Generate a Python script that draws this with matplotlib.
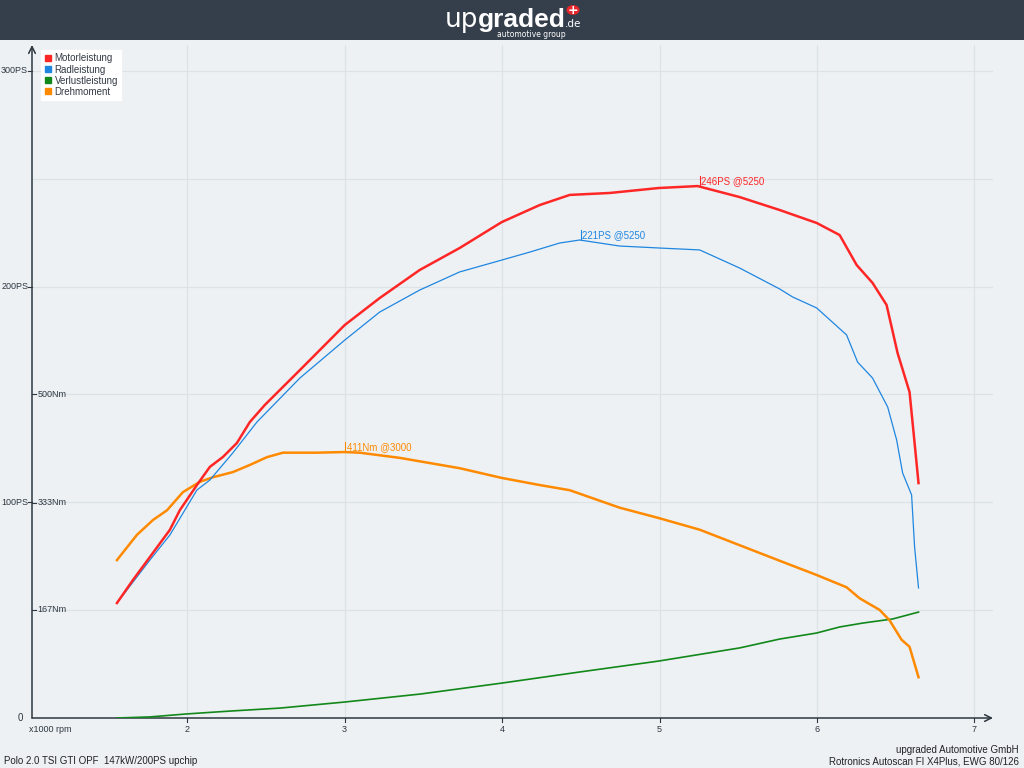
import matplotlib
matplotlib.use("Agg")
import matplotlib.pyplot as plt
from matplotlib.patches import Rectangle, Circle
from matplotlib.lines import Line2D
import numpy as np

# data (rpm in x1000, power in PS, torque in Nm)
motor_rpm = [1.554, 1.656, 1.763, 1.890, 1.954, 2.062, 2.144, 2.227, 2.316, 2.398, 2.493, 2.716,
             3.001, 3.223, 3.477, 3.731, 3.998, 4.239, 4.430, 4.684, 4.995, 5.242, 5.509, 5.763,
             5.998, 6.144, 6.252, 6.353, 6.442, 6.512, 6.588, 6.620, 6.645]
motor_ps = [53.3, 64.0, 74.6, 87.2, 96.4, 108.0, 116.4, 121.0, 127.5, 137.2, 145.1, 161.3,
            182.2, 194.7, 207.7, 217.9, 229.9, 237.8, 242.5, 243.4, 245.7, 246.6, 241.5, 235.5,
            229.5, 223.9, 210.0, 201.7, 191.5, 169.2, 151.1, 127.5, 108.9]

rad_rpm = [1.554, 1.763, 1.890, 2.062, 2.144, 2.290, 2.443, 2.716, 3.001, 3.223, 3.477, 3.731,
           3.998, 4.176, 4.366, 4.493, 4.747, 4.995, 5.255, 5.509, 5.763, 5.845, 5.998, 6.188,
           6.258, 6.353, 6.449, 6.506, 6.544, 6.601, 6.620, 6.645]
rad_ps = [53.3, 73.2, 84.8, 105.7, 110.3, 122.9, 137.2, 157.6, 175.2, 188.2, 198.4, 206.8,
          212.3, 216.0, 220.2, 221.6, 218.8, 217.9, 217.0, 208.6, 198.9, 195.2, 190.1, 177.6,
          165.0, 157.6, 144.2, 128.9, 113.6, 103.4, 79.3, 60.3]

verlust_rpm = [1.554, 1.763, 2.0, 2.27, 2.59, 3.0, 3.48, 4.0, 4.49, 4.995, 5.51, 5.763,
               5.998, 6.144, 6.29, 6.48, 6.645]
verlust_ps = [0.0, 0.5, 1.9, 3.2, 4.6, 7.4, 11.1, 16.2, 21.3, 26.4, 32.5, 36.6,
              39.4, 42.2, 44.0, 45.9, 49.1]

dreh_rpm = [1.554, 1.681, 1.783, 1.872, 1.973, 2.081, 2.163, 2.290, 2.398, 2.506, 2.608, 2.823,
            3.001, 3.096, 3.350, 3.731, 3.998, 4.239, 4.430, 4.747, 4.995, 5.255, 5.509, 5.763,
            5.998, 6.188, 6.271, 6.398, 6.461, 6.537, 6.588, 6.645]
dreh_nm = [244, 283, 306, 321, 349, 365, 372, 380, 391, 403, 410, 410,
           411, 410, 402, 386, 371, 360, 352, 325, 309, 291, 267, 243,
           221, 202, 185, 167, 151, 121, 110, 63]

nm_to_ps = 0.3  # 500Nm sits on the 150PS line

x_ticks = [2, 3, 4, 5, 6, 7]
ps_ticks = [100, 200, 300]
ps_labels = ["100PS", "200PS", "300PS"]
nm_ticks = [167, 333, 500]
nm_labels = ["167Nm", "333Nm", "500Nm"]
leg_names = ["Motorleistung", "Radleistung", "Verlustleistung", "Drehmoment"]

bg = "#edf1f4"
dark = "#2e3740"
red = "#ff2626"
blue = "#1f86e0"
green = "#12881a"
orange = "#ff8a00"
fnt = "Liberation Sans"

fig = plt.figure(figsize=(10.24, 7.68), dpi=100, facecolor=bg)
fig.patches.append(Rectangle((0, 1 - 40 / 768), 1, 40 / 768, transform=fig.transFigure,
                             facecolor="#353f4b", edgecolor="none"))

# logo
fig.text(478 / 1024, 1 - 27 / 768, "up", color="white", fontsize=19, ha="right", va="baseline",
         family="DejaVu Sans")
fig.text(478 / 1024, 1 - 27 / 768, "graded", color="white", fontsize=19, ha="left", va="baseline",
         family=fnt, weight="bold")
fig.text(565 / 1024, 1 - 27 / 768, ".de", color="white", fontsize=7.5, ha="left", va="baseline",
         family="DejaVu Sans")
fig.text(531 / 1024, 1 - 37 / 768, "automotive group", color="white", fontsize=5.5, ha="center",
         va="baseline", family="DejaVu Sans")
fig.patches.append(Circle((573 / 1024, 1 - 10 / 768), 6.5 / 1024, transform=fig.transFigure,
                          facecolor="#e8262c", edgecolor="none"))
fig.text(573 / 1024, 1 - 10.5 / 768, "+", color="white", fontsize=9, weight="bold",
         ha="center", va="center", family="DejaVu Sans")

ax = fig.add_axes([32 / 1024, 50 / 768, 961 / 1024, 673 / 768])
ax.set_facecolor(bg)
ax.set_xlim(1.0146, 7.118)
ax.set_ylim(0, 312)
for s in ax.spines.values():
    s.set_visible(False)
ax.set_xticks([])
ax.set_yticks([])

# grid
for xv in x_ticks:
    ax.axvline(xv, color="#dce2e8", lw=0.9, zorder=0)
for yv in [50, 100, 150, 200, 250, 300]:
    ax.axhline(yv, color="#dce2e8", lw=0.9, zorder=0)

# axes with arrows
ax.annotate("", xy=(1.0, 0), xytext=(0, 0), xycoords="axes fraction",
            arrowprops=dict(arrowstyle="->", color=dark, lw=1.1, shrinkA=0, shrinkB=0,
                            mutation_scale=12))
ax.annotate("", xy=(0, 1.0), xytext=(0, 0), xycoords="axes fraction",
            arrowprops=dict(arrowstyle="->", color=dark, lw=1.1, shrinkA=0, shrinkB=0,
                            mutation_scale=12))

xtr = ax.get_xaxis_transform()
for xv in x_ticks:
    ax.plot([xv, xv], [0, -0.006], transform=xtr, color=dark, lw=0.8, clip_on=False)
    ax.text(xv, -0.01, str(xv), transform=xtr, ha="center", va="top", fontsize=6.5,
            color=dark, family=fnt)
ax.text(-0.003, -0.01, "x1000 rpm", transform=ax.transAxes, ha="left", va="top", fontsize=6.5,
        color=dark, family=fnt)

ytr = ax.get_yaxis_transform()
ax.text(-0.009, 0, "0", transform=ytr, ha="right", va="center", fontsize=7, color=dark, family=fnt)
for yv, lab in zip(ps_ticks, ps_labels):
    ax.plot([-0.004, 0], [yv, yv], transform=ytr, color=dark, lw=0.8, clip_on=False)
    ax.text(-0.004, yv, lab, transform=ytr, ha="right", va="center", fontsize=6.5,
            color=dark, family=fnt)
for nv, lab in zip(nm_ticks, nm_labels):
    yv = nv * nm_to_ps
    ax.plot([0, 0.004], [yv, yv], transform=ytr, color=dark, lw=0.8, clip_on=False)
    ax.text(0.006, yv, lab, transform=ytr, ha="left", va="center", fontsize=6.5,
            color=dark, family=fnt)

# curves
ax.plot(verlust_rpm, verlust_ps, color=green, lw=1.2, zorder=3)
ax.plot(dreh_rpm, np.array(dreh_nm) * nm_to_ps, color=orange, lw=1.8, zorder=3)
ax.plot(rad_rpm, rad_ps, color=blue, lw=0.9, zorder=4)
ax.plot(motor_rpm, motor_ps, color=red, lw=1.8, zorder=5)

# peak markers
def peak(xv, yv, txt, col):
    ax.plot([xv, xv], [yv, yv + 4.6], color=col, lw=0.8, zorder=6)
    ax.text(xv + 0.008, yv + 2.3, txt, color=col, fontsize=7, ha="left", va="center",
            family=fnt, zorder=6)

peak(5.255, 246.6, "246PS @5250", red)
peak(4.500, 221.6, "221PS @5250", blue)
peak(3.005, 123.3, "411Nm @3000", orange)

# legend
handles = [Line2D([], [], marker="s", ls="none", color=c, markersize=5)
           for c in [red, blue, green, orange]]
leg = ax.legend(handles, leg_names, loc="upper left", bbox_to_anchor=(0.0094, 0.9926),
                borderaxespad=0, frameon=True, fancybox=False, framealpha=1,
                facecolor="white", edgecolor="white", handlelength=0.7, handletextpad=0.35,
                labelspacing=0.12, borderpad=0.35, prop={"family": fnt, "size": 7})
for t in leg.get_texts():
    t.set_color("#333a44")

# footer
fig.text(4 / 1024, 1 - 761 / 768, "Polo 2.0 TSI GTI OPF  147kW/200PS upchip", fontsize=7,
         color="#222", ha="left", va="center", family=fnt)
fig.text(1019 / 1024, 1 - 750 / 768, "upgraded Automotive GmbH", fontsize=7,
         color="#222", ha="right", va="center", family=fnt)
fig.text(1019 / 1024, 1 - 761 / 768, "Rotronics Autoscan FI X4Plus, EWG 80/126", fontsize=7,
         color="#222", ha="right", va="center", family=fnt)

fig.savefig("out.png", dpi=100, facecolor=bg)
